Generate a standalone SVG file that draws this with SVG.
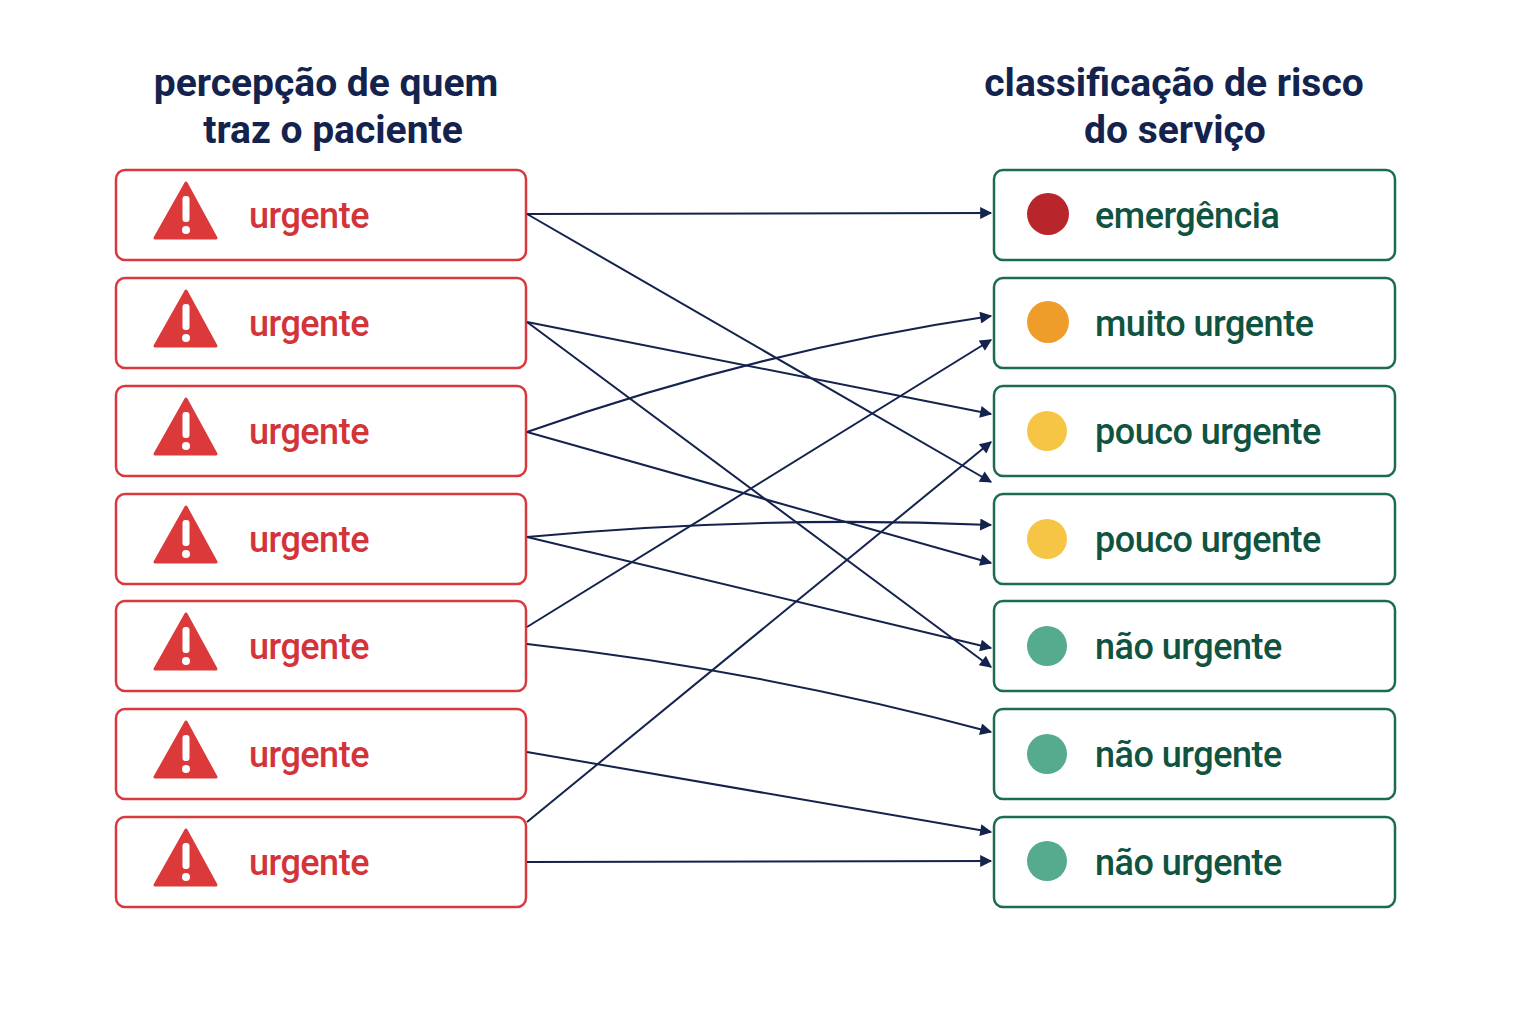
<svg xmlns="http://www.w3.org/2000/svg" width="1536" height="1024" viewBox="0 0 1536 1024">
<style>
.t{font-family:Roboto,"Liberation Sans",sans-serif;font-weight:500}
.h{font-size:39px;font-weight:700;fill:#14234d;text-anchor:middle}
.lb{fill:#fff;stroke:#d9383c;stroke-width:2.5}
.rb{fill:#fff;stroke:#1c6b55;stroke-width:2.5}
.lt{font-size:36px;fill:#d3343a;letter-spacing:-0.5px}
.rt{font-size:36px;fill:#0f5340;letter-spacing:-0.5px}
.c{fill:none;stroke:#14234d;stroke-width:2;marker-end:url(#a)}
</style>
<defs>
<marker id="a" viewBox="0 0 10 10" refX="9" refY="5" markerWidth="15" markerHeight="12" markerUnits="userSpaceOnUse" orient="auto"><path d="M0,0L10,5L0,10z" fill="#14234d"/></marker>
<g id="warn"><path d="M186,183 L216,238 L155,238 Z" fill="#dc3a3a" stroke="#dc3a3a" stroke-width="3" stroke-linejoin="round"/><rect x="182.5" y="196" width="7" height="26" rx="3" fill="#fff"/><circle cx="186" cy="230" r="4" fill="#fff"/></g>
</defs>
<rect width="1536" height="1024" fill="#fff"/>
<text class="t h" x="326" y="96">percepção de quem</text>
<text class="t h" x="333" y="143">traz o paciente</text>
<text class="t h" x="1174" y="96">classificação de risco</text>
<text class="t h" x="1175" y="143">do serviço</text>
<g id="l1"><rect class="lb" x="116" y="170" width="410" height="90" rx="9"/><use href="#warn"/><text class="t lt" x="249" y="228">urgente</text></g>
<g id="l2"><rect class="lb" x="116" y="278" width="410" height="90" rx="9"/><use href="#warn" y="108"/><text class="t lt" x="249" y="336">urgente</text></g>
<g id="l3"><rect class="lb" x="116" y="386" width="410" height="90" rx="9"/><use href="#warn" y="216"/><text class="t lt" x="249" y="444">urgente</text></g>
<g id="l4"><rect class="lb" x="116" y="494" width="410" height="90" rx="9"/><use href="#warn" y="324"/><text class="t lt" x="249" y="552">urgente</text></g>
<g id="l5"><rect class="lb" x="116" y="601" width="410" height="90" rx="9"/><use href="#warn" y="431"/><text class="t lt" x="249" y="659">urgente</text></g>
<g id="l6"><rect class="lb" x="116" y="709" width="410" height="90" rx="9"/><use href="#warn" y="539"/><text class="t lt" x="249" y="767">urgente</text></g>
<g id="l7"><rect class="lb" x="116" y="817" width="410" height="90" rx="9"/><use href="#warn" y="647"/><text class="t lt" x="249" y="875">urgente</text></g>
<g id="r1"><rect class="rb" x="994" y="170" width="401" height="90" rx="9"/><circle cx="1048" cy="214" r="21" fill="#b8262c"/><text class="t rt" x="1095" y="228">emergência</text></g>
<g id="r2"><rect class="rb" x="994" y="278" width="401" height="90" rx="9"/><circle cx="1048" cy="322" r="21" fill="#ee9d2b"/><text class="t rt" x="1095" y="336">muito urgente</text></g>
<g id="r3"><rect class="rb" x="994" y="386" width="401" height="90" rx="9"/><circle cx="1047" cy="431" r="20" fill="#f7c545"/><text class="t rt" x="1095" y="444">pouco urgente</text></g>
<g id="r4"><rect class="rb" x="994" y="494" width="401" height="90" rx="9"/><circle cx="1047" cy="539" r="20" fill="#f7c545"/><text class="t rt" x="1095" y="552">pouco urgente</text></g>
<g id="r5"><rect class="rb" x="994" y="601" width="401" height="90" rx="9"/><circle cx="1047" cy="646" r="20" fill="#56aa8e"/><text class="t rt" x="1095" y="659">não urgente</text></g>
<g id="r6"><rect class="rb" x="994" y="709" width="401" height="90" rx="9"/><circle cx="1047" cy="754" r="20" fill="#56aa8e"/><text class="t rt" x="1095" y="767">não urgente</text></g>
<g id="r7"><rect class="rb" x="994" y="817" width="401" height="90" rx="9"/><circle cx="1047" cy="861" r="20" fill="#56aa8e"/><text class="t rt" x="1095" y="875">não urgente</text></g>
<g id="connectors">
<path class="c" d="M527,214 L991,213"/>
<path class="c" d="M527,214 L991,482"/>
<path class="c" d="M527,322 L991,414"/>
<path class="c" d="M527,322 L991,667"/>
<path class="c" d="M527,432 Q760,350 991,316"/>
<path class="c" d="M527,432 L991,563"/>
<path class="c" d="M527,537 Q760,515 991,525"/>
<path class="c" d="M527,537 L991,648"/>
<path class="c" d="M527,627 L991,340"/>
<path class="c" d="M527,644 Q760,670 991,732"/>
<path class="c" d="M527,752 L991,832"/>
<path class="c" d="M527,822 L991,442"/>
<path class="c" d="M527,862 L991,861"/>
</g>
</svg>
